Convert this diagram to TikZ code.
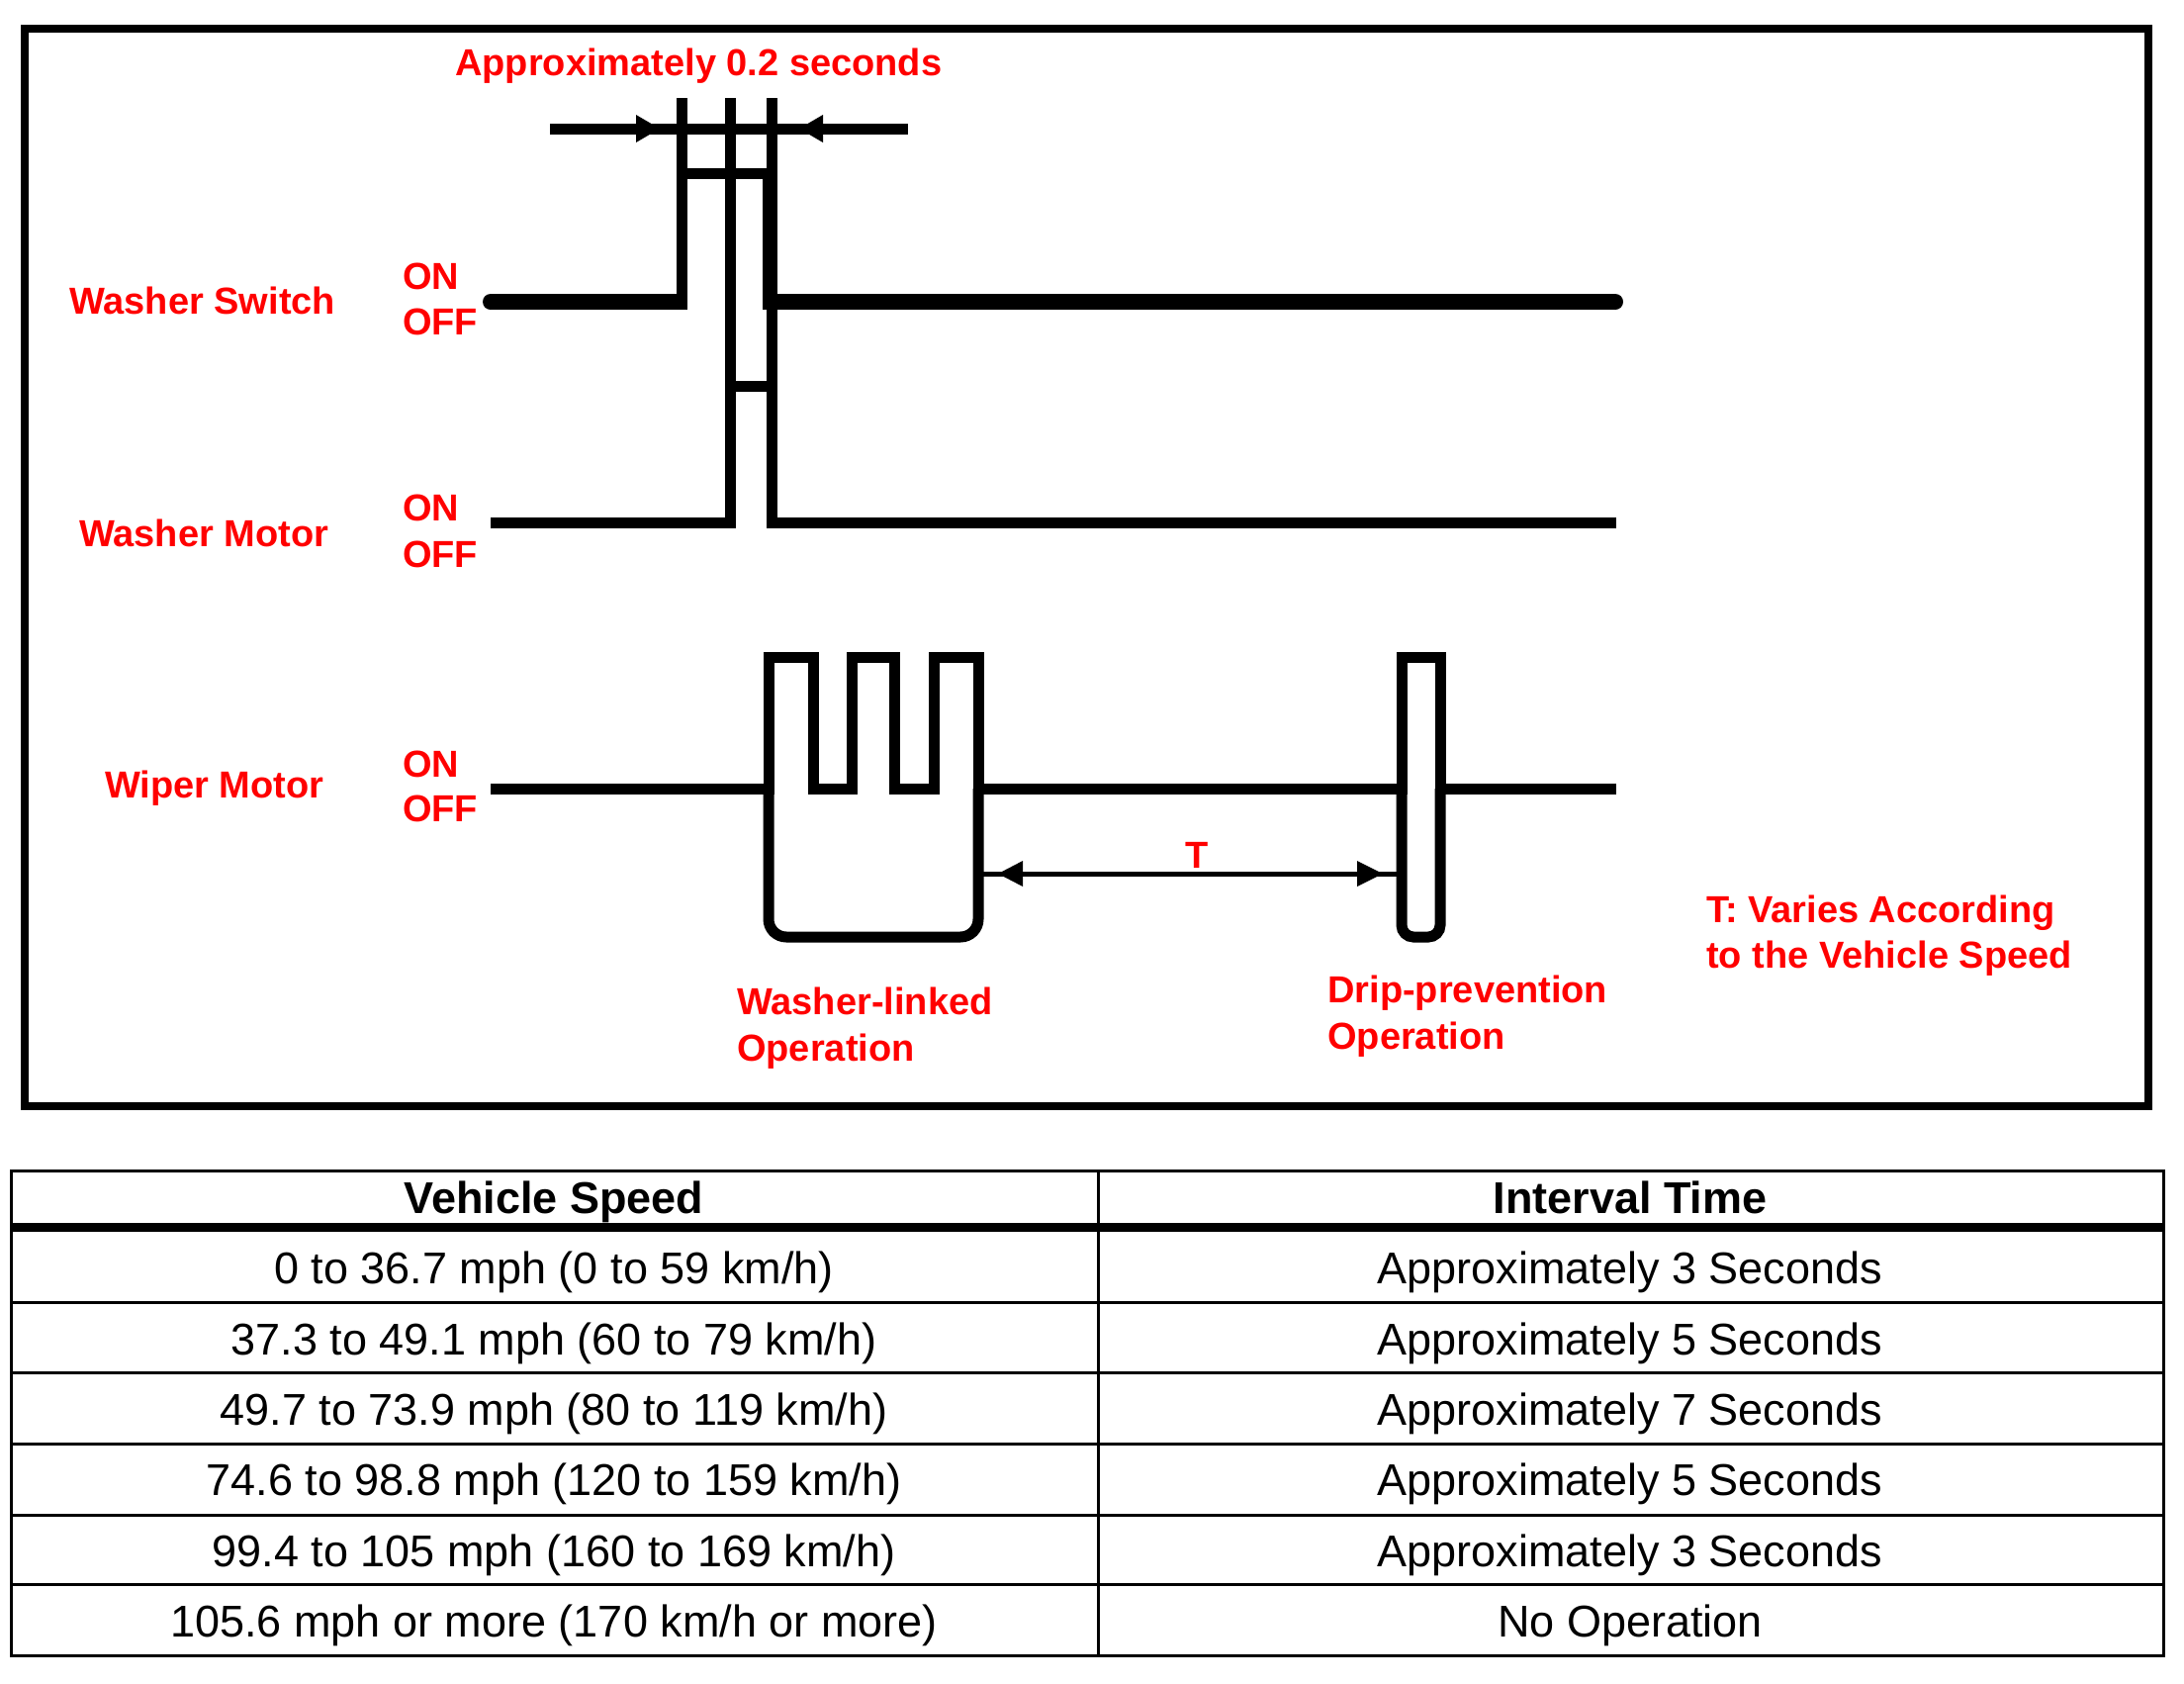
\documentclass[tikz,border=0pt]{standalone}
\usepackage{fontspec}
\setmainfont{Liberation Sans}
\definecolor{lblred}{RGB}{255,0,0}
\begin{document}
\begin{tikzpicture}[x=1pt,y=-1pt,
  lbl/.style={text=lblred, font=\fontsize{38}{46}\selectfont\bfseries, inner sep=0pt, anchor=base west},
  cell/.style={font=\fontsize{45}{54}\selectfont, inner sep=0pt, anchor=base},
  hcell/.style={font=\fontsize{45}{54}\selectfont\bfseries, inner sep=0pt, anchor=base},
  sig/.style={line width=11pt, line join=miter, line cap=rect},
  thicksig/.style={line width=16pt, line cap=butt},
  tline/.style={line width=3pt}]
\useasboundingbox (0,0) rectangle (2208,1701);
\fill[white] (0,0) rectangle (2208,1701);

% outer frame
\draw[line width=8pt] (25,29) rectangle (2172,1118);

% dimension line for 0.2 s
\draw[line width=11pt] (556,130) -- (918,130);
\fill (643,116) -- (667,130) -- (643,144) -- cycle;
\fill (832,116) -- (808,130) -- (832,144) -- cycle;
\node[lbl] (approx) at (460,76) {Approximately 0.2 seconds};

% washer switch
\draw[sig] (689,104) -- (689,305);
\draw[sig] (738,104) -- (738,528);
\draw[sig] (780,104) -- (780,528);
\draw[sig] (689,175) -- (780,175);
\draw[line width=15pt] (778,175) -- (778,305);
\draw[thicksig] (496,305) -- (694.5,305);
\draw[thicksig] (771,305) -- (1633,305);
\fill (496,305) circle[radius=8pt];
\fill (1633,305) circle[radius=8pt];
\node[lbl] (ws) at (70,317) {Washer Switch};
\node[lbl] (wson) at (407,292) {ON};
\node[lbl] (wsoff) at (407,338) {OFF};

% washer motor
\draw[sig] (738,390) -- (780,390);
\draw[sig] (501,528) -- (738,528);
\draw[sig] (780,528) -- (1628,528);
\node[lbl] (wm) at (80,552) {Washer Motor};
\node[lbl] (wmon) at (407,526) {ON};
\node[lbl] (wmoff) at (407,573) {OFF};

% wiper motor
\draw[sig] (501,797) -- (777,797) -- (777,664) -- (822,664) -- (822,797)
  -- (861,797) -- (861,664) -- (904,664) -- (904,797)
  -- (944,797) -- (944,664) -- (989,664) -- (989,797)
  -- (1417,797) -- (1417,664) -- (1456,664) -- (1456,797) -- (1628,797);
\draw[line width=11pt, rounded corners=18pt] (777,797) -- (777,947) -- (989,947) -- (989,797);
\draw[line width=11pt, rounded corners=12pt] (1417,797) -- (1417,947) -- (1456,947) -- (1456,797);
\node[lbl] (wp) at (106,806) {Wiper Motor};
\node[lbl] (wpon) at (407,785) {ON};
\node[lbl] (wpoff) at (407,830) {OFF};

% T interval
\draw[line width=5pt] (989,883) -- (1417,883);
\fill (1034,870) -- (1009,883) -- (1034,896) -- cycle;
\fill (1372,870) -- (1398,883) -- (1372,896) -- cycle;
\node[lbl] (T) at (1198,877) {T};

\node[lbl] (wl1) at (745,1025) {Washer-linked};
\node[lbl] (wl2) at (745,1072) {Operation};
\node[lbl] (dp1) at (1342,1013) {Drip-prevention};
\node[lbl] (dp2) at (1342,1060) {Operation};
\node[lbl] (tv1) at (1725,932) {T: Varies According};
\node[lbl] (tv2) at (1725,978) {to the Vehicle Speed};

% table
\draw[tline] (11,1183) rectangle (2187,1673);
\draw[tline] (1110,1183) -- (1110,1673);
\draw[line width=9pt] (11,1240) -- (2187,1240);
\foreach \yy in {1316,1387,1459,1531,1601}
  \draw[tline] (11,\yy) -- (2187,\yy);

\node[hcell] (h1) at (560,1226) {Vehicle Speed};
\node[hcell] (h2) at (1648,1226) {Interval Time};
\node[cell] (a1) at (560,1297) {0 to 36.7 mph (0 to 59 km/h)};
\node[cell] (b1) at (1648,1297) {Approximately 3 Seconds};
\node[cell] (a2) at (560,1369) {37.3 to 49.1 mph (60 to 79 km/h)};
\node[cell] (b2) at (1648,1369) {Approximately 5 Seconds};
\node[cell] (a3) at (560,1440) {49.7 to 73.9 mph (80 to 119 km/h)};
\node[cell] (b3) at (1648,1440) {Approximately 7 Seconds};
\node[cell] (a4) at (560,1511) {74.6 to 98.8 mph (120 to 159 km/h)};
\node[cell] (b4) at (1648,1511) {Approximately 5 Seconds};
\node[cell] (a5) at (560,1583) {99.4 to 105 mph (160 to 169 km/h)};
\node[cell] (b5) at (1648,1583) {Approximately 3 Seconds};
\node[cell] (a6) at (560,1654) {105.6 mph or more (170 km/h or more)};
\node[cell] (b6) at (1648,1654) {No Operation};
\end{tikzpicture}
\end{document}
